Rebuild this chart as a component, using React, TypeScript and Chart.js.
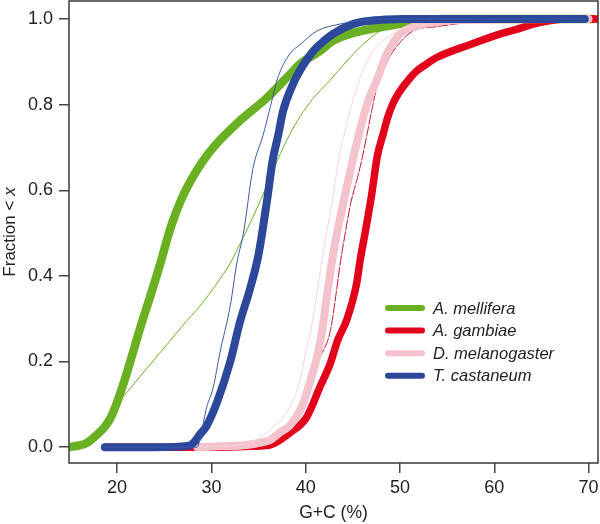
import React, { useEffect, useRef } from "react";
import { Chart, registerables } from "chart.js";

Chart.register(...registerables);

// ---------- data ----------
const X_TICKS = [20, 30, 40, 50, 60, 70];
const Y_TICKS = [0, 0.2, 0.4, 0.6, 0.8, 1.0];
const X_MIN = 14.9;
const X_MAX = 71;
const Y_MIN = -0.037;
const Y_MAX = 1.042;

const SPECIES = ["A. mellifera", "A. gambiae", "D. melanogaster", "T. castaneum"];
const THICK_COLORS = ["#6AB023", "#E2001A", "#F4C2CC", "#2B489B"];
const THIN_COLORS = ["#6AB023", "#C8102E", "#F7D4DB", "#3B59A8"];

// A. mellifera
const melliferaThickX = [14.9, 16.0, 16.8, 17.9, 18.6, 19.3, 20.0, 20.7, 21.4, 22.4, 23.7, 24.6, 25.3, 25.9, 26.8, 27.7, 29.0, 30.2, 33.0, 35.9, 38.3, 39.4, 41.5, 42.9, 45.0, 46.5, 48.5, 50.3, 52.0, 55.0, 70.5];
const melliferaThickY = [0.0, 0.004, 0.01, 0.03, 0.045, 0.068, 0.105, 0.15, 0.2, 0.275, 0.365, 0.43, 0.485, 0.527, 0.578, 0.618, 0.665, 0.7, 0.762, 0.816, 0.87, 0.895, 0.925, 0.949, 0.967, 0.975, 0.983, 0.99, 0.997, 1.0, 1.0];
const melliferaThinX = [14.9, 16.8, 18.5, 20.0, 21.5, 23.0, 25.3, 27.0, 28.8, 30.5, 32.0, 33.6, 35.2, 37.0, 38.3, 39.4, 40.8, 42.3, 43.5, 44.7, 46.3, 47.9, 49.5, 51.0, 53.0, 56.0, 70.5];
const melliferaThinY = [0.0, 0.01, 0.045, 0.1, 0.14, 0.18, 0.24, 0.285, 0.33, 0.38, 0.43, 0.5, 0.576, 0.67, 0.73, 0.772, 0.815, 0.85, 0.88, 0.91, 0.945, 0.972, 0.985, 0.995, 0.999, 1.0, 1.0];

// A. gambiae
const gambiaeThickX = [18.8, 30.0, 34.0, 36.2, 38.3, 40.1, 41.5, 42.6, 43.4, 44.4, 45.4, 45.8, 46.3, 47.0, 47.6, 48.2, 48.7, 49.2, 49.8, 50.8, 51.8, 52.7, 53.9, 57.4, 60.9, 62.7, 64.1, 67.7, 71.0];
const gambiaeThickY = [0.0, 0.0, 0.002, 0.005, 0.033, 0.07, 0.14, 0.195, 0.25, 0.3, 0.382, 0.44, 0.5, 0.59, 0.68, 0.73, 0.77, 0.8, 0.825, 0.855, 0.879, 0.893, 0.91, 0.94, 0.967, 0.978, 0.988, 1.0, 1.0];
const gambiaeThinX = [18.8, 30.0, 33.0, 36.0, 37.5, 38.5, 39.4, 40.5, 41.5, 42.6, 43.3, 43.6, 44.0, 44.8, 45.5, 46.0, 46.5, 47.0, 47.6, 48.2, 49.0, 50.0, 51.4, 53.9, 57.4, 62.0, 68.0];
const gambiaeThinY = [0.0, 0.0, 0.002, 0.01, 0.03, 0.06, 0.1, 0.16, 0.21, 0.27, 0.37, 0.42, 0.475, 0.572, 0.63, 0.676, 0.73, 0.786, 0.845, 0.879, 0.915, 0.945, 0.972, 0.982, 0.992, 0.998, 1.0];

// D. melanogaster
const melanogasterThickX = [28.5, 31.0, 33.8, 35.5, 36.2, 37.3, 38.3, 39.7, 40.5, 41.2, 41.7, 42.3, 42.9, 44.0, 44.5, 45.4, 46.5, 47.6, 48.6, 50.0, 51.8, 53.5, 55.6, 70.0];
const melanogasterThickY = [0.0, 0.002, 0.005, 0.012, 0.016, 0.035, 0.05, 0.1, 0.156, 0.21, 0.266, 0.36, 0.45, 0.572, 0.622, 0.709, 0.8, 0.86, 0.918, 0.965, 0.984, 0.992, 0.997, 1.0];
const melanogasterThinX = [28.5, 32.0, 34.0, 36.2, 38.3, 39.4, 40.1, 40.5, 41.2, 41.9, 42.8, 43.6, 44.2, 44.7, 45.3, 46.0, 47.0, 47.9, 48.6, 50.0, 52.1, 55.0, 60.0];
const melanogasterThinY = [0.0, 0.003, 0.01, 0.04, 0.093, 0.156, 0.233, 0.268, 0.36, 0.46, 0.572, 0.685, 0.74, 0.786, 0.83, 0.875, 0.92, 0.945, 0.955, 0.975, 0.985, 0.995, 1.0];

// T. castaneum
const castaneumThickX = [18.7, 24.0, 27.5, 28.1, 28.8, 29.5, 30.6, 32.0, 33.0, 34.1, 35.0, 35.9, 36.5, 37.1, 37.6, 38.7, 39.4, 40.8, 42.0, 42.9, 45.0, 46.5, 48.5, 50.3, 69.6];
const castaneumThickY = [0.0, 0.0, 0.003, 0.01, 0.03, 0.05, 0.105, 0.2, 0.29, 0.37, 0.45, 0.576, 0.67, 0.73, 0.785, 0.85, 0.88, 0.925, 0.95, 0.965, 0.988, 0.995, 0.999, 1.0, 1.0];
const castaneumThinX = [18.7, 28.5, 28.8, 29.5, 30.2, 30.9, 32.0, 32.7, 33.4, 34.4, 35.5, 36.2, 37.0, 38.3, 39.4, 41.2, 43.6, 46.0, 50.0, 69.6];
const castaneumThinY = [0.0, 0.0, 0.02, 0.093, 0.14, 0.22, 0.33, 0.43, 0.5, 0.65, 0.73, 0.79, 0.86, 0.918, 0.94, 0.972, 0.988, 0.997, 1.0, 1.0];

// ---------- helpers ----------
const pts = (xs: number[], ys: number[]) => xs.map((x, i) => ({ x, y: ys[i] }));

const FONT = "'Liberation Sans', Arial, Helvetica, sans-serif";

const CURVES = [
  { xs: melliferaThickX, ys: melliferaThickY, color: THICK_COLORS[0], w: 8.5, dash: [] as number[] },
  { xs: melliferaThinX, ys: melliferaThinY, color: THIN_COLORS[0], w: 1, dash: [] as number[] },
  { xs: gambiaeThickX, ys: gambiaeThickY, color: THICK_COLORS[1], w: 7.5, dash: [] as number[] },
  { xs: gambiaeThinX, ys: gambiaeThinY, color: THIN_COLORS[1], w: 1, dash: [10, 2] },
  { xs: melanogasterThickX, ys: melanogasterThickY, color: THICK_COLORS[2], w: 8, dash: [] as number[] },
  { xs: melanogasterThinX, ys: melanogasterThinY, color: THIN_COLORS[2], w: 1, dash: [] as number[] },
  { xs: castaneumThickX, ys: castaneumThickY, color: THICK_COLORS[3], w: 8, dash: [] as number[] },
  { xs: castaneumThinX, ys: castaneumThinY, color: THIN_COLORS[3], w: 1, dash: [] as number[] },
];

const framePlugin = {
  id: "frame",
  afterDraw(chart: any) {
    const { ctx, chartArea } = chart;
    ctx.save();
    ctx.strokeStyle = "#3a3a3a";
    ctx.lineWidth = 1.5;
    ctx.strokeRect(chartArea.left, chartArea.top, chartArea.right - chartArea.left, chartArea.bottom - chartArea.top);
    ctx.restore();
  },
};

const yTitlePlugin = {
  id: "yTitle",
  afterDraw(chart: any) {
    const { ctx, chartArea } = chart;
    const cy = (chartArea.top + chartArea.bottom) / 2;
    ctx.save();
    ctx.translate(10, cy);
    ctx.rotate(-Math.PI / 2);
    ctx.fillStyle = "#222";
    ctx.textBaseline = "middle";
    ctx.textAlign = "left";
    const normal = `17px ${FONT}`;
    const italic = `italic 17px ${FONT}`;
    ctx.font = normal;
    const a = "Fraction < ";
    const wa = ctx.measureText(a).width;
    ctx.font = italic;
    const wb = ctx.measureText("x").width;
    const start = -(wa + wb) / 2;
    ctx.font = normal;
    ctx.fillText(a, start, 0);
    ctx.font = italic;
    ctx.fillText("x", start + wa, 0);
    ctx.restore();
  },
};

const LEGEND_LEFT = 385;
const LEGEND_TOP = 308;
const LEGEND_ROW = 22.6;
const LEGEND_SAMPLE = 40;

const legendPlugin = {
  id: "insetLegend",
  afterDraw(chart: any) {
    const { ctx } = chart;
    ctx.save();
    SPECIES.forEach((name, i) => {
      const y = LEGEND_TOP + i * LEGEND_ROW;
      ctx.strokeStyle = THICK_COLORS[i];
      ctx.lineWidth = 6;
      ctx.lineCap = "round";
      ctx.beginPath();
      ctx.moveTo(LEGEND_LEFT + 3, y);
      ctx.lineTo(LEGEND_LEFT + LEGEND_SAMPLE - 3, y);
      ctx.stroke();
      ctx.fillStyle = "#222";
      ctx.font = `italic 16.5px ${FONT}`;
      ctx.textBaseline = "middle";
      ctx.textAlign = "left";
      ctx.fillText(name, LEGEND_LEFT + 48, y + 1);
    });
    ctx.restore();
  },
};

export default function App() {
  const ref = useRef<HTMLCanvasElement | null>(null);

  useEffect(() => {
    if (!ref.current) return;
    const n = CURVES.length;
    const chart = new Chart(ref.current, {
      type: "line",
      data: {
        datasets: CURVES.map((c, i) => ({
          data: pts(c.xs, c.ys),
          borderColor: c.color,
          backgroundColor: c.color,
          borderWidth: c.w,
          borderDash: c.dash,
          borderCapStyle: "round",
          borderJoinStyle: "round",
          pointRadius: 0,
          pointHoverRadius: 0,
          fill: false,
          cubicInterpolationMode: "monotone",
          order: n - i,
        })),
      },
      options: {
        responsive: false,
        animation: false,
        events: [],
        layout: { padding: { top: 1, right: 2, left: 0, bottom: 0 } },
        plugins: { legend: { display: false }, tooltip: { enabled: false } },
        scales: {
          x: {
            type: "linear",
            min: X_MIN,
            max: X_MAX,
            afterBuildTicks: (s: any) => {
              s.ticks = X_TICKS.map((v) => ({ value: v }));
            },
            afterFit: (s: any) => {
              s.height = 61;
              s.paddingLeft = 0;
              s.paddingRight = 0;
            },
            border: { display: false },
            grid: { display: true, drawOnChartArea: false, drawTicks: true, tickLength: 10, color: "#444", lineWidth: 1.5 },
            ticks: { color: "#222", font: { family: FONT, size: 18 }, padding: 4, maxRotation: 0, callback: (v: any) => String(v) },
            title: { display: true, text: "G+C (%)", color: "#222", font: { family: FONT, size: 17.5 }, padding: 0 },
          },
          y: {
            type: "linear",
            min: Y_MIN,
            max: Y_MAX,
            afterBuildTicks: (s: any) => {
              s.ticks = Y_TICKS.map((v) => ({ value: v }));
            },
            afterFit: (s: any) => {
              s.width = 69;
              s.paddingTop = 0;
              s.paddingBottom = 0;
            },
            border: { display: false },
            grid: { display: true, drawOnChartArea: false, drawTicks: true, tickLength: 10, color: "#444", lineWidth: 1.5 },
            ticks: { color: "#222", font: { family: FONT, size: 18 }, padding: 6, callback: (v: any) => Number(v).toFixed(1) },
          },
        },
      },
      plugins: [framePlugin, yTitlePlugin, legendPlugin],
    } as any);
    return () => chart.destroy();
  }, []);

  return (
    <div style={{ position: "absolute", left: 0, top: 0, width: 600, height: 524, background: "#fff" }}>
      <canvas ref={ref} width={600} height={524} style={{ display: "block" }} />
    </div>
  );
}
